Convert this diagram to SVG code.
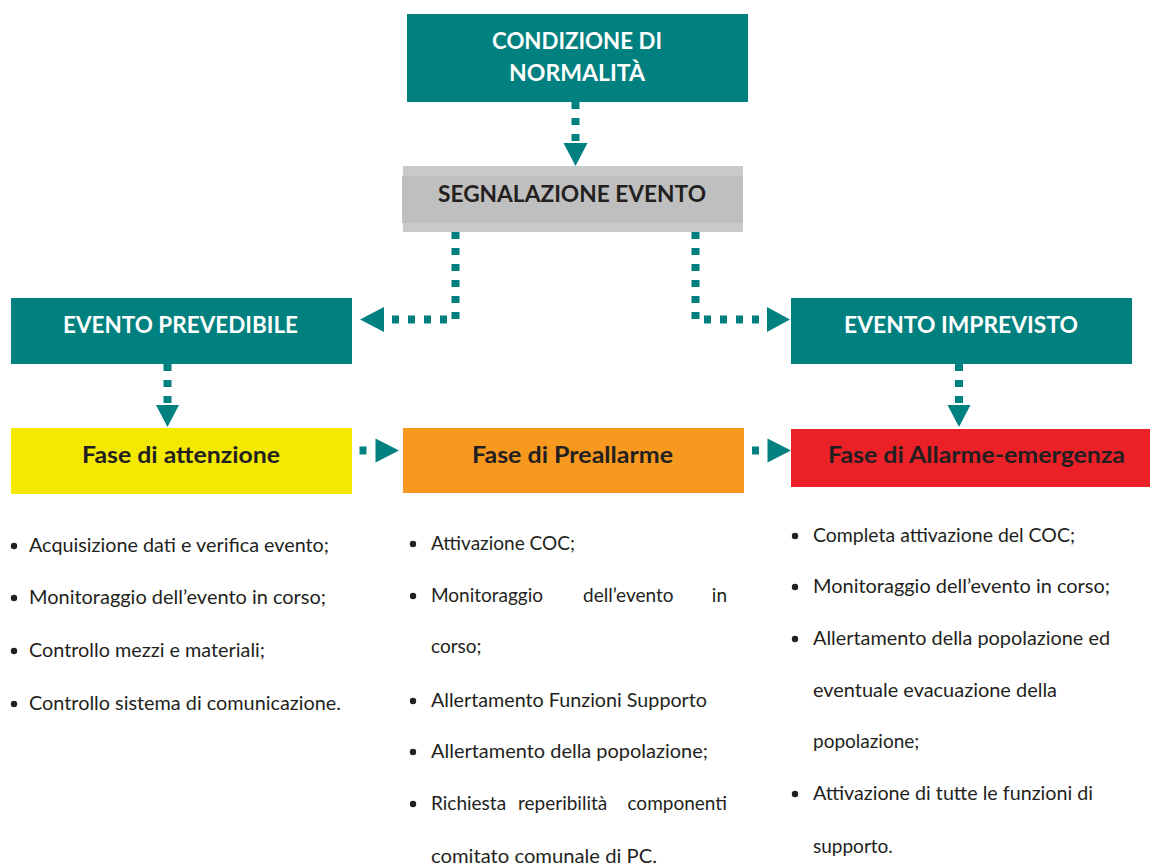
<svg xmlns="http://www.w3.org/2000/svg" width="1150" height="868" viewBox="0 0 1150 868">
<style>
  .teal { fill: #00807f; }
  .hdr { font-family: Lato, "Open Sans", "Liberation Sans", sans-serif; font-weight: bold; font-size: 22px; text-anchor: middle; }
  .white { fill: #ffffff; }
  .dark { fill: #231f20; }
  .item { font-family: Lato, "Open Sans", "Liberation Sans", sans-serif; font-size: 19px; fill: #231f20; }
  .end { text-anchor: end; }
  .bullet { fill: #231f20; }
  .dot { fill: none; stroke: #00807f; stroke-width: 8; stroke-dasharray: 7 9; }
  .solid { fill: none; stroke: #00807f; stroke-width: 8; }
  .head { fill: #00807f; }
</style>
<rect width="1150" height="868" fill="#ffffff"/>

<g id="connectors">
  <path class="dot" d="M575.5 102 V142"/>
  <polygon class="head" points="563.5,143 587.5,143 575.5,166"/>
  <path class="dot" d="M455.5 232 V319.5 H386"/>
  <polygon class="head" points="360,319.5 384,307 384,332"/>
  <path class="dot" d="M695.5 232 V319.5 H768"/>
  <polygon class="head" points="790,319.5 767,307 767,332"/>
  <path class="dot" d="M167.5 364 V404"/>
  <polygon class="head" points="156,405 179,405 167.5,427"/>
  <path class="dot" d="M959 364 V404"/>
  <polygon class="head" points="947.5,405 970.5,405 959,427"/>
  <path class="solid" d="M359.5 450.5 H366.5"/>
  <polygon class="head" points="375.5,438.5 375.5,462.5 399,450.5"/>
  <path class="solid" d="M752 450.5 H759"/>
  <polygon class="head" points="767.5,438.5 767.5,462.5 791,450.5"/>
</g>

<g id="condizione">
  <rect class="teal" x="407" y="14" width="341" height="88"/>
  <text class="hdr white" x="577" y="49" textLength="170" lengthAdjust="spacingAndGlyphs">CONDIZIONE DI</text>
  <text class="hdr white" x="577" y="81" textLength="136" lengthAdjust="spacingAndGlyphs">NORMALITÀ</text>
</g>

<g id="segnalazione">
  <rect x="403" y="166" width="340" height="66" fill="#c9c9c9"/>
  <rect x="402" y="176" width="341" height="47" fill="#bfbfbf"/>
  <text class="hdr dark" x="572" y="202" textLength="268" lengthAdjust="spacingAndGlyphs">SEGNALAZIONE EVENTO</text>
</g>

<g id="prevedibile">
  <rect class="teal" x="11" y="298" width="341" height="66"/>
  <text class="hdr white" x="180.5" y="333" textLength="235" lengthAdjust="spacingAndGlyphs">EVENTO PREVEDIBILE</text>
</g>

<g id="imprevisto">
  <rect class="teal" x="791" y="298" width="341" height="66"/>
  <text class="hdr white" x="961" y="333" textLength="234" lengthAdjust="spacingAndGlyphs">EVENTO IMPREVISTO</text>
</g>

<g id="attenzione">
  <rect x="11" y="428" width="341" height="66" fill="#f4e900"/>
  <text class="hdr dark" x="181" y="463" textLength="198" lengthAdjust="spacingAndGlyphs">Fase di attenzione</text>
</g>

<g id="preallarme">
  <rect x="403" y="428" width="341" height="65" fill="#f7981f"/>
  <text class="hdr dark" x="572.5" y="463" textLength="201" lengthAdjust="spacingAndGlyphs">Fase di Preallarme</text>
</g>

<g id="allarme">
  <rect x="791" y="429" width="359" height="58" fill="#ec2027"/>
  <text class="hdr dark" x="976.5" y="463" textLength="297" lengthAdjust="spacingAndGlyphs">Fase di Allarme-emergenza</text>
</g>

<g id="lista-attenzione">
  <circle class="bullet" cx="14" cy="546" r="3.2"/>
  <text class="item" x="29" y="552" textLength="300" lengthAdjust="spacingAndGlyphs">Acquisizione dati e verifica evento;</text>
  <circle class="bullet" cx="14" cy="598" r="3.2"/>
  <text class="item" x="29" y="604" textLength="297" lengthAdjust="spacingAndGlyphs">Monitoraggio dell’evento in corso;</text>
  <circle class="bullet" cx="14" cy="651" r="3.2"/>
  <text class="item" x="29" y="657" textLength="236" lengthAdjust="spacingAndGlyphs">Controllo mezzi e materiali;</text>
  <circle class="bullet" cx="14" cy="704" r="3.2"/>
  <text class="item" x="29" y="710" textLength="312" lengthAdjust="spacingAndGlyphs">Controllo sistema di comunicazione.</text>
</g>

<g id="lista-preallarme">
  <circle class="bullet" cx="413" cy="544" r="3.2"/>
  <text class="item" x="431" y="550" textLength="144" lengthAdjust="spacingAndGlyphs">Attivazione COC;</text>
  <circle class="bullet" cx="413" cy="596" r="3.2"/>
  <text class="item" y="602"><tspan x="431">Monitoraggio</tspan><tspan x="583">dell’evento</tspan></text>
  <text class="item end" x="727" y="602">in</text>
  <text class="item" x="431" y="653">corso;</text>
  <circle class="bullet" cx="413" cy="701" r="3.2"/>
  <text class="item" x="431" y="707" textLength="276" lengthAdjust="spacingAndGlyphs">Allertamento Funzioni Supporto</text>
  <circle class="bullet" cx="413" cy="752" r="3.2"/>
  <text class="item" x="431" y="758" textLength="277" lengthAdjust="spacingAndGlyphs">Allertamento della popolazione;</text>
  <circle class="bullet" cx="413" cy="804" r="3.2"/>
  <text class="item" y="810"><tspan x="431">Richiesta</tspan><tspan x="518">reperibilità</tspan></text>
  <text class="item end" x="727" y="810">componenti</text>
  <text class="item" x="431" y="863" textLength="226" lengthAdjust="spacingAndGlyphs">comitato comunale di PC.</text>
</g>

<g id="lista-allarme">
  <circle class="bullet" cx="795" cy="536" r="3.2"/>
  <text class="item" x="813" y="542" textLength="262" lengthAdjust="spacingAndGlyphs">Completa attivazione del COC;</text>
  <circle class="bullet" cx="795" cy="587" r="3.2"/>
  <text class="item" x="813" y="593" textLength="297" lengthAdjust="spacingAndGlyphs">Monitoraggio dell’evento in corso;</text>
  <circle class="bullet" cx="795" cy="639" r="3.2"/>
  <text class="item" x="813" y="645" textLength="297" lengthAdjust="spacingAndGlyphs">Allertamento della popolazione ed</text>
  <text class="item" x="813" y="697" textLength="244" lengthAdjust="spacingAndGlyphs">eventuale evacuazione della</text>
  <text class="item" x="813" y="748">popolazione;</text>
  <circle class="bullet" cx="795" cy="794" r="3.2"/>
  <text class="item" x="813" y="800" textLength="280" lengthAdjust="spacingAndGlyphs">Attivazione di tutte le funzioni di</text>
  <text class="item" x="813" y="853">supporto.</text>
</g>
</svg>
